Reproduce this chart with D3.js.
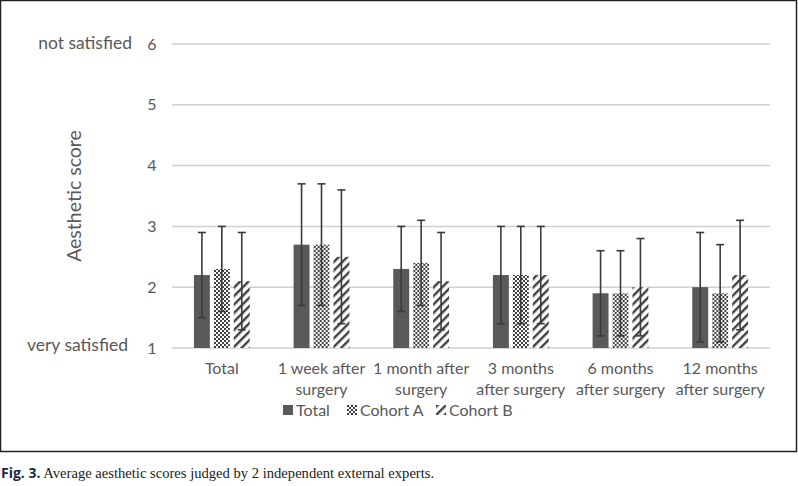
<!DOCTYPE html>
<html>
<head>
<meta charset="utf-8">
<script src="https://cdn.jsdelivr.net/npm/d3@7"></script>
<style>
  body { margin: 0; background: #fff; }
  svg { display: block; }
</style>
</head>
<body>
<div id="chart"></div>
<script>
const categories = [["Total"], ["1 week after", "surgery"], ["1 month after", "surgery"],
  ["3 months", "after surgery"], ["6 months", "after surgery"], ["12 months", "after surgery"]];
const seriesNames = ["Total", "Cohort A", "Cohort B"];
const totalValues = [2.2, 2.7, 2.3, 2.2, 1.9, 2.0];
const cohortAValues = [2.3, 2.7, 2.4, 2.2, 1.9, 1.9];
const cohortBValues = [2.1, 2.5, 2.1, 2.2, 2.0, 2.2];
const totalLow = [1.5, 1.7, 1.6, 1.4, 1.2, 1.1];
const totalHigh = [2.9, 3.7, 3.0, 3.0, 2.6, 2.9];
const cohortALow = [1.6, 1.7, 1.7, 1.4, 1.2, 1.1];
const cohortAHigh = [3.0, 3.7, 3.1, 3.0, 2.6, 2.7];
const cohortBLow = [1.3, 1.4, 1.3, 1.4, 1.2, 1.3];
const cohortBHigh = [2.9, 3.6, 2.9, 3.0, 2.8, 3.1];
const yTicks = [1, 2, 3, 4, 5, 6];

const values = [totalValues, cohortAValues, cohortBValues];
const lows = [totalLow, cohortALow, cohortBLow];
const highs = [totalHigh, cohortAHigh, cohortBHigh];

const width = 798, height = 486;
const marginLeft = 172, marginRight = 28, marginTop = 44, plotBottom = 348;
const font = "Lato, 'Open Sans', sans-serif";
const textColor = "#595959";

const svg = d3.select("#chart").append("svg")
    .attr("width", width)
    .attr("height", height)
    .attr("viewBox", [0, 0, width, height]);

// patterns
const defs = svg.append("defs");
const checker = defs.append("pattern")
    .attr("id", "checker")
    .attr("patternUnits", "userSpaceOnUse")
    .attr("width", 4).attr("height", 4);
checker.append("rect").attr("width", 4).attr("height", 4).attr("fill", "#fff");
checker.append("rect").attr("width", 2).attr("height", 2).attr("fill", "#404040");
checker.append("rect").attr("x", 2).attr("y", 2).attr("width", 2).attr("height", 2).attr("fill", "#404040");

const stripes = defs.append("pattern")
    .attr("id", "stripes")
    .attr("patternUnits", "userSpaceOnUse")
    .attr("width", 6).attr("height", 6)
    .attr("patternTransform", "rotate(45)");
stripes.append("rect").attr("width", 6).attr("height", 6).attr("fill", "#fff");
stripes.append("rect").attr("width", 2.4).attr("height", 6).attr("fill", "#404040");

const fills = ["#595959", "url(#checker)", "url(#stripes)"];

// frame
svg.append("rect")
    .attr("x", 0.5).attr("y", 0.5)
    .attr("width", 796).attr("height", 451)
    .attr("fill", "none")
    .attr("stroke", "#222")
    .attr("stroke-width", 1.5);

const x0 = d3.scaleBand()
    .domain(d3.range(categories.length))
    .range([marginLeft, width - marginRight]);

const x1 = d3.scaleBand()
    .domain(d3.range(seriesNames.length))
    .range([0, x0.bandwidth()])
    .paddingInner(0.2)
    .paddingOuter(1.1);

const y = d3.scaleLinear()
    .domain([1, 6])
    .range([plotBottom, marginTop]);

// grid
svg.append("g")
    .selectAll("line")
    .data(yTicks)
    .join("line")
    .attr("x1", marginLeft)
    .attr("x2", width - marginRight)
    .attr("y1", d => y(d))
    .attr("y2", d => y(d))
    .attr("stroke", "#d0d0d0")
    .attr("stroke-width", 1.5);

// y tick labels
svg.append("g")
    .attr("font-family", font)
    .attr("font-size", 16)
    .attr("fill", textColor)
    .attr("text-anchor", "middle")
    .selectAll("text")
    .data(yTicks)
    .join("text")
    .attr("x", 152)
    .attr("y", d => y(d))
    .attr("dy", "0.35em")
    .text(d => d);

svg.append("text")
    .attr("x", 132).attr("y", y(6)).attr("dy", "0.3em")
    .attr("text-anchor", "end")
    .attr("font-family", font).attr("font-size", 17.5).attr("fill", textColor)
    .text("not satisfied");

svg.append("text")
    .attr("x", 128).attr("y", y(1) - 2).attr("dy", "0.3em")
    .attr("text-anchor", "end")
    .attr("font-family", font).attr("font-size", 17.5).attr("fill", textColor)
    .text("very satisfied");

svg.append("text")
    .attr("transform", `translate(81,${y(3.5)}) rotate(-90)`)
    .attr("text-anchor", "middle")
    .attr("font-family", font).attr("font-size", 19.5).attr("fill", textColor)
    .text("Aesthetic score");

// bars
const groups = svg.append("g")
    .selectAll("g")
    .data(categories)
    .join("g")
    .attr("transform", (d, i) => `translate(${x0(i)},0)`);

groups.selectAll("rect")
    .data((d, i) => seriesNames.map((s, j) => ({j, v: values[j][i]})))
    .join("rect")
    .attr("x", d => x1(d.j))
    .attr("width", x1.bandwidth())
    .attr("y", d => y(d.v))
    .attr("height", d => y(1) - y(d.v))
    .attr("fill", d => fills[d.j]);

// error bars
const err = groups.selectAll("g.err")
    .data((d, i) => seriesNames.map((s, j) => ({j, lo: lows[j][i], hi: highs[j][i]})))
    .join("g")
    .attr("class", "err")
    .attr("stroke", "#3a3a3a")
    .attr("stroke-width", 1.6);

err.append("line")
    .attr("x1", d => x1(d.j) + x1.bandwidth() / 2)
    .attr("x2", d => x1(d.j) + x1.bandwidth() / 2)
    .attr("y1", d => y(d.lo))
    .attr("y2", d => y(d.hi));
err.append("line")
    .attr("x1", d => x1(d.j) + x1.bandwidth() / 2 - 4)
    .attr("x2", d => x1(d.j) + x1.bandwidth() / 2 + 4)
    .attr("y1", d => y(d.lo))
    .attr("y2", d => y(d.lo));
err.append("line")
    .attr("x1", d => x1(d.j) + x1.bandwidth() / 2 - 4)
    .attr("x2", d => x1(d.j) + x1.bandwidth() / 2 + 4)
    .attr("y1", d => y(d.hi))
    .attr("y2", d => y(d.hi));

// x labels
groups.selectAll("text")
    .data(d => d)
    .join("text")
    .attr("x", x0.bandwidth() / 2)
    .attr("y", (d, k) => 374 + k * 21)
    .attr("text-anchor", "middle")
    .attr("font-family", font).attr("font-size", 16).attr("fill", textColor)
    .text(d => d);

// legend
const legendX = [283, 347, 436];
const legend = svg.append("g")
    .selectAll("g")
    .data(seriesNames)
    .join("g")
    .attr("transform", (d, i) => `translate(${legendX[i]},405)`);
legend.append("rect")
    .attr("width", 10).attr("height", 10)
    .attr("fill", (d, i) => fills[i]);
legend.append("text")
    .attr("x", 13).attr("y", 5).attr("dy", "0.36em")
    .attr("font-family", font).attr("font-size", 16).attr("fill", textColor)
    .text(d => d);

// caption
const cap = svg.append("text")
    .attr("x", 1).attr("y", 478);
cap.append("tspan")
    .attr("font-family", "'Open Sans', sans-serif")
    .attr("font-size", 14)
    .attr("font-weight", "bold")
    .attr("fill", "#1b2a45")
    .text("Fig. 3.");
cap.append("tspan")
    .attr("font-family", "'Liberation Serif', serif")
    .attr("font-size", 14.6)
    .attr("fill", "#222")
    .text(" Average aesthetic scores judged by 2 independent external experts.");
</script>
</body>
</html>
